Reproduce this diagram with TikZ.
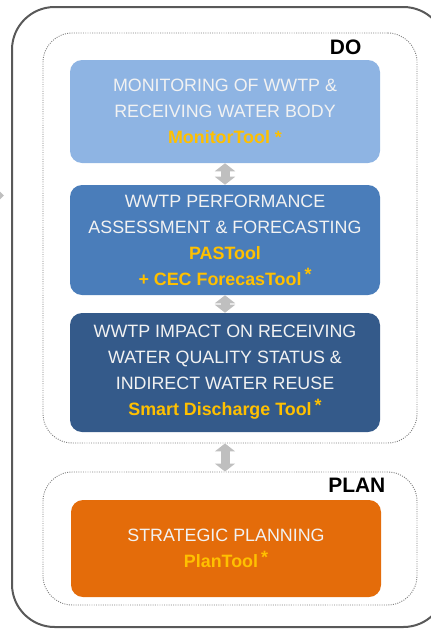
\documentclass[tikz,border=0pt]{standalone}
\usepackage{fontspec}
\setmainfont{Liberation Sans}
\usetikzlibrary{arrows.meta}
\definecolor{FrameGray}{HTML}{595959}
\definecolor{DotGray}{HTML}{7F7F7F}
\definecolor{ArrowGray}{HTML}{BFBFBF}
\definecolor{SkyBlue}{HTML}{8EB4E3}
\definecolor{MidBlue}{HTML}{4A7DBA}
\definecolor{DeepBlue}{HTML}{345A8A}
\definecolor{Orange}{HTML}{E46C0A}
\definecolor{ToolYellow}{HTML}{FFC000}
\definecolor{SoftWhite}{HTML}{F2F2F2}
\newcommand{\toolstar}{\,\raisebox{0.45ex}{*}}

\begin{document}
\begin{tikzpicture}[
  x=0.75pt, y=-0.75pt,
  stage/.style={rectangle, rounded corners=9pt, align=center, minimum width=232.5pt, text=SoftWhite, font=\fontsize{13.4pt}{19.5pt}\selectfont},
  frame/.style={rectangle, rounded corners=22pt, draw=DotGray, densely dotted, line width=0.7pt, minimum width=280.5pt},
  tag/.style={anchor=east, font=\bfseries\fontsize{15.7pt}{18pt}\selectfont},
  link/.style={{Triangle[width=15pt,length=6pt]}-{Triangle[width=15pt,length=6pt]}, line width=6.75pt, draw=ArrowGray}
]
\useasboundingbox (0,0) rectangle (431,629);
\clip (0,0) rectangle (431,629);
\fill[ArrowGray] (-6,186) -- (4,195.5) -- (-6,205) -- cycle;
\draw[FrameGray, line width=1.5pt, rounded corners=32pt] (12,7) rectangle (446,627);
\node[frame, minimum height=307.5pt] (doframe) at (230,238) {};
\node[frame, minimum height=99.75pt] (planframe) at (230,538.5) {};
\node[tag] (dotag) at (366,47.5) {DO};
\node[tag] (plantag) at (390,485.5) {PLAN};
\node[stage, fill=SkyBlue, minimum height=77.25pt] (monitor) at (225,111.5) {MONITORING OF WWTP \&\\RECEIVING WATER BODY\\\textcolor{ToolYellow}{\textbf{MonitorTool *}}};
\node[stage, fill=MidBlue, minimum height=82.5pt] (assess) at (225,240) {WWTP PERFORMANCE\\ASSESSMENT \& FORECASTING\\\textcolor{ToolYellow}{\textbf{PASTool}}\\\textcolor{ToolYellow}{\textbf{+ CEC ForecasTool\toolstar}}};
\node[stage, fill=DeepBlue, minimum height=89.25pt] (impact) at (225,372.5) {WWTP IMPACT ON RECEIVING\\WATER QUALITY STATUS \&\\INDIRECT WATER REUSE\\\textcolor{ToolYellow}{\textbf{Smart Discharge Tool\toolstar}}};
\node[stage, fill=Orange, minimum height=72.75pt] (planning) at (226,548.5) {STRATEGIC PLANNING\\\textcolor{ToolYellow}{\textbf{PlanTool\toolstar}}};
\draw[link] (monitor) -- (assess);
\draw[link] (assess) -- (impact);
\draw[link] (doframe.south -| impact) -- (planframe.north -| impact);
\end{tikzpicture}
\end{document}
